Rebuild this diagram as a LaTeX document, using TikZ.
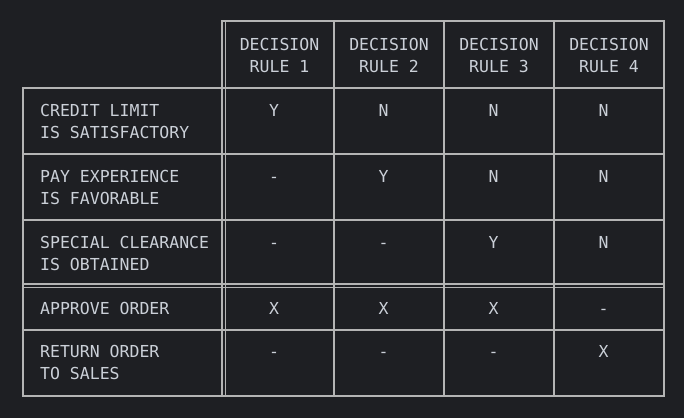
\documentclass[tikz,border=0pt]{standalone}
\usepackage{fontspec}
\setmonofont{DejaVu Sans Mono}
\definecolor{tblbg}{HTML}{1E1F23}
\definecolor{tblline}{HTML}{B4B4B4}
\definecolor{tbltext}{HTML}{CBD0D8}
\usetikzlibrary{positioning}

\begin{document}
\begin{tikzpicture}[
        x=1pt, y=-1pt,
        grid/.style={draw=tblline, line width=1.5pt, line cap=rect},
        txt/.style={text=tbltext, inner sep=0pt,
                    font=\ttfamily\fontsize{16.5}{22}\selectfont},
        head/.style={txt, anchor=north, align=center},
        lbl/.style={txt, anchor=north west, align=left},
        val/.style={txt, anchor=base}
      ]
        \fill[tblbg] (0,0) rectangle (684,418);
        \useasboundingbox (0,0) rectangle (684,418);

        % grid
        \draw[grid] (222,21) -- (664,21);
        \draw[grid] (23,88) -- (664,88);
        \draw[grid] (23,154) -- (664,154);
        \draw[grid] (23,220) -- (664,220);
        \draw[grid] (23,284) -- (664,284);
        \draw[grid] (23,287.5) -- (664,287.5);
        \draw[grid] (23,330) -- (664,330);
        \draw[grid] (23,396) -- (664,396);
        \draw[grid] (23,88) -- (23,396);
        \draw[grid] (222,21) -- (222,396);
        \draw[grid] (225.5,21) -- (225.5,396);
        \draw[grid] (334,21) -- (334,396);
        \draw[grid] (444,21) -- (444,396);
        \draw[grid] (554,21) -- (554,396);
        \draw[grid] (664,21) -- (664,396);

        % header
        \node[head] (h1) at (279.5,38) {DECISION\\RULE 1};
        \node[head] (h2) at (389,38) {DECISION\\RULE 2};
        \node[head] (h3) at (499,38) {DECISION\\RULE 3};
        \node[head] (h4) at (609,38) {DECISION\\RULE 4};

        % conditions and actions
        \node[lbl] (c1) at (40,104.5) {CREDIT LIMIT\\IS SATISFACTORY};
        \node[lbl] (c2) at (40,170) {PAY EXPERIENCE\\IS FAVORABLE};
        \node[lbl] (c3) at (40,236) {SPECIAL CLEARANCE\\IS OBTAINED};
        \node[lbl] (a1) at (40,302) {APPROVE ORDER};
        \node[lbl] (a2) at (40,345.5) {RETURN ORDER\\TO SALES};

        % entries
        \node[val] (c1r1) at (274,116.5) {Y};
        \node[val] (c1r2) at (383.5,116.5) {N};
        \node[val] (c1r3) at (493.5,116.5) {N};
        \node[val] (c1r4) at (603.5,116.5) {N};

        \node[val] (c2r1) at (274,182) {-};
        \node[val] (c2r2) at (383.5,182) {Y};
        \node[val] (c2r3) at (493.5,182) {N};
        \node[val] (c2r4) at (603.5,182) {N};

        \node[val] (c3r1) at (274,248) {-};
        \node[val] (c3r2) at (383.5,248) {-};
        \node[val] (c3r3) at (493.5,248) {Y};
        \node[val] (c3r4) at (603.5,248) {N};

        \node[val] (a1r1) at (274,314) {X};
        \node[val] (a1r2) at (383.5,314) {X};
        \node[val] (a1r3) at (493.5,314) {X};
        \node[val] (a1r4) at (603.5,314) {-};

        \node[val] (a2r1) at (274,357.5) {-};
        \node[val] (a2r2) at (383.5,357.5) {-};
        \node[val] (a2r3) at (493.5,357.5) {-};
        \node[val] (a2r4) at (603.5,357.5) {X};
      \end{tikzpicture}
\end{document}
